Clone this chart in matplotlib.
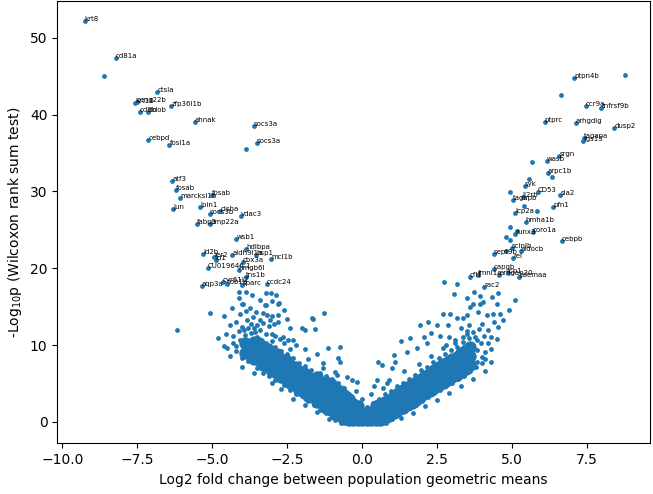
import matplotlib
matplotlib.use("Agg")
import matplotlib.pyplot as plt

# Labelled genes (log2 fold change, -log10 p, name)
lab_x = [-9.25, -8.22, -6.84, -7.58, -7.52, -7.41, -7.15, -6.37, -5.58, -3.61, -3.51,
         -7.14, -6.43, -6.33, -6.22, -6.08, -5.01, -6.30, -5.40, -5.08, -4.74, -4.05,
         -5.51, -5.08, -4.20, -3.88, -5.30, -4.94, -4.89, -4.34, -3.54, -3.04, -5.15,
         -3.99, -4.12, -3.88, -5.35, -4.66, -4.50, -4.00, -3.19,
         7.06, 7.46, 7.97, 6.08, 7.12, 8.40, 7.40, 7.36, 6.57, 6.15, 6.19, 5.42, 5.85,
         5.35, 5.01, 6.60, 6.37, 5.09, 5.45, 5.10, 5.69, 6.66, 4.98, 4.38, 5.29, 5.02,
         4.38, 3.58, 3.85, 4.57, 4.85, 5.23, 4.06]
lab_y = [52.2, 47.4, 42.9, 41.5, 41.6, 40.36, 40.3, 41.15, 39.0, 38.5, 36.25,
         36.64, 36.1, 31.3, 30.2, 29.2, 29.56, 27.7, 28.0, 27.1, 27.5, 26.8,
         25.7, 25.8, 23.8, 22.45, 21.8, 21.5, 21.1, 21.7, 21.75, 21.15, 20.05,
         20.8, 19.75, 18.9, 17.7, 18.2, 17.9, 17.8, 18.0,
         44.75, 41.07, 40.9, 39.1, 38.98, 38.3, 37.0, 36.6, 34.6, 33.95, 32.4, 30.7, 29.87,
         29.3, 28.87, 29.48, 27.96, 27.2, 26.0, 24.4, 24.74, 23.5, 22.66, 21.9, 22.2, 21.3,
         19.9, 18.8, 19.1, 19.06, 19.4, 18.8, 17.58]
lab_names = ["krt8", "cd81a", "ctsla", "krt18", "ccng22b", "cd9b", "cldob", "zfp36l1b",
             "ahnak", "socs3a", "socs3a", "cebpd", "fosl1a", "atf3", "fosab", "marcksl1b",
             "fosab", "jun", "lpin1", "socs3b", "cisha", "vdac3", "fabp3", "pmp22a", "wsb1",
             "hdlbpa", "id2b", "ier2", "id1", "aldh9l1a", "hsp1", "mcl1b", "CU019646.1",
             "cbx3a", "hmgb6l", "tns1b", "aqp3a", "cyr61l2", "tob1b", "sparc", "ccdc24",
             "ptpn4b", "ccr9a", "tnfrsf9b", "ptprc", "arhgdig", "dusp2", "tagapa", "rgs13",
             "srgn", "wasb", "arpc1b", "syk", "CD53", "il2rb", "tagapb", "sla2", "pfn1",
             "lcp2a", "hmha1b", "runx3", "coro1a", "cebpb", "scinlb", "sept9b", "aldocb",
             "rel", "capgb", "cfl1", "fmnl1a", "arhgap30", "lcp1", "psemaa", "rac2"]

# Unlabelled high-significance genes
top_x = [-8.60, -3.88, 8.77, 6.63, 5.65, 6.33, 5.57, 4.93, 5.39, 5.82, 4.92, 4.80, 4.93,
         4.80, 5.15]
top_y = [45.05, 35.5, 45.14, 42.58, 33.8, 31.9, 31.56, 29.87, 28.1, 27.5, 25.4, 24.1, 23.7,
         22.2, 24.8]

# Scattered moderately significant genes
sc_x = [-6.19, -5.07, -4.80, -4.10, -3.88, -3.69, -3.21, -3.04, -2.89, -4.10, -4.01, -3.41,
        -3.21, -3.00, -2.79, -4.08, -3.89, -3.31, -3.19, -3.02, -2.82, -1.28, -1.65, -3.85,
        -3.70, -3.50, -3.30, -3.10, -2.95, -2.41, -2.02, -1.90, -1.58, -4.08, -4.02, -3.85,
        -3.63, -2.80, -1.69, -1.13, -0.74, -0.80, -0.74, -0.85, -0.35, -0.19, -3.97, -3.24,
        -2.80, -3.41, -3.08, -3.80, -3.58, -3.02, -2.63, -2.47, -4.40, -4.55, -2.20, -1.90,
        -1.50, -1.30, -2.30,
        -4.20, -4.00, -3.95, -3.60, -3.40, -3.20, -2.90, -2.75, -2.60, -4.30, -4.50, -4.20,
        -3.75, -3.55, -2.60, -2.50, -4.35, -4.60,
        -3.00, -2.70, -2.30, -1.90, -1.50, -1.10, -3.60, -4.00, -4.40, -4.60,
        -3.00, -2.40, -1.80, -1.30, -0.90, -0.50, -0.20, 0.00,
        0.53, 0.65, 1.04, 1.09, 0.98, 0.48, 0.81, 1.48, 1.81, 1.92, 2.20, 2.15, 2.48, 2.70,
        2.87, 2.92, 3.15, 3.37, 3.48, 3.59, 3.70, 3.92, 4.03, 4.15, 4.37, 4.48, 4.53, 3.81,
        3.81, 3.81, 3.65, 2.48, 3.48, 3.70, 2.72, 3.15, 4.52, 3.71, 3.93, 4.33, 3.05, 3.49,
        4.20, 4.00, 3.30, 2.60, 2.90, 4.70, 4.90, 5.10, 4.30, 1.30, 0.30, 0.70,
        3.90, 4.05, 4.20, 3.55, 3.35, 3.10, 2.80, 4.40, 4.60, 3.85, 2.30, 2.05, 1.60, 4.10,
        1.30, 1.70, 2.10, 2.50, 2.90, 3.30, 3.70, 4.10, 4.30,
        0.40, 0.90, 1.40, 1.90, 2.30, 2.70, 3.10, 3.50, 4.30, 4.50]
sc_y = [11.9, 14.2, 10.9, 16.9, 16.9, 16.5, 16.8, 16.8, 16.5, 16.1, 15.4, 15.9,
        15.2, 15.7, 15.5, 14.1, 14.4, 14.2, 13.9, 13.8, 13.9, 14.2, 13.4, 13.2,
        12.8, 12.6, 12.9, 12.5, 12.7, 12.2, 12.2, 12.0, 12.07, 10.6, 9.1, 10.4,
        13.7, 13.0, 13.5, 9.6, 9.8, 8.3, 7.8, 6.1, 5.4, 5.2, 15.4, 15.2,
        15.4, 13.2, 13.2, 12.2, 11.7, 11.5, 11.1, 10.6, 12.6, 11.5, 10.0, 9.5,
        8.8, 7.6, 10.6,
        13.0, 12.4, 11.9, 12.2, 11.9, 11.4, 11.2, 10.8, 10.3, 10.2, 9.6, 9.9,
        14.8, 14.3, 14.6, 13.4, 14.8, 13.8,
        5.0, 4.3, 3.0, 2.2, 1.3, 0.4, 6.3, 7.2, 8.6, 9.9,
        10.5, 9.5, 8.2, 7.0, 6.5, 5.8, 4.0, 3.0,
        7.8, 7.4, 8.7, 7.8, 6.95, 5.4, 5.0, 9.1, 9.6, 12.6, 13.0, 10.2, 12.6, 14.1,
        12.6, 14.1, 13.5, 13.5, 13.9, 15.0, 15.4, 15.4, 15.6, 13.9, 14.1, 15.4, 12.4, 10.6,
        9.3, 7.8, 7.2, 4.1, 11.5, 11.7, 18.2, 17.9, 16.8, 16.85, 16.4, 16.2, 16.6, 16.1,
        12.0, 12.8, 12.2, 11.2, 11.0, 13.3, 14.6, 15.8, 11.0, 10.5, 3.6, 4.4,
        12.1, 11.2, 10.3, 12.6, 11.0, 10.6, 10.0, 13.0, 14.1, 14.3, 11.6, 11.0, 10.9, 8.2,
        0.5, 1.2, 2.0, 2.9, 3.8, 4.7, 5.6, 6.6, 7.8,
        4.6, 5.4, 6.6, 7.5, 8.6, 9.6, 10.3, 11.8, 9.5, 10.8]

# Edges of the dense bulk of genes
edge_x = [-4.2, -4.0, -3.8, -3.5, -3.3, -3.1, -2.9, -2.6, -2.4, -2.2, -2.0, -1.8, -1.6, -1.4,
          -1.2, -1.0, -0.9, -0.7,
          -4.3, -4.1, -3.9, -3.7, -3.5, -3.4, -3.2, -2.9, -2.7, -2.5, -2.3, -2.1, -1.9, -1.7,
          -1.4, -1.2, -1.0, -0.8, -0.6, -0.45, -0.3, -0.15,
          0.8, 1.0, 1.2, 1.4, 1.6, 1.8, 2.0, 2.2, 2.4, 2.6, 2.8, 3.0, 3.2, 3.4, 3.6, 3.8, 4.0,
          0.15, 0.35, 0.55, 0.75, 0.95, 1.15, 1.35, 1.55, 1.75, 1.95, 2.15, 2.35, 2.55, 2.75,
          2.95, 3.15, 3.35, 3.55, 3.75, 3.95, 4.1, 4.0,
          -0.5, -0.3, -0.1, 0.1, 0.3, 0.5, 0.7]
edge_y = [9.2, 8.3, 7.9, 7.0, 6.4, 6.0, 5.4, 4.8, 4.2, 3.6, 3.3, 2.7, 2.2, 1.6,
          1.1, 0.6, 0.2, -0.1,
          11.2, 11.8, 11.3, 11.6, 11.0, 10.7, 10.3, 9.8, 9.2, 8.8, 8.3, 7.6, 7.3, 6.8,
          6.4, 6.0, 5.6, 5.0, 4.4, 3.6, 3.0, 2.3,
          -0.1, 0.4, 0.9, 1.4, 1.8, 2.2, 2.7, 3.2, 3.7, 4.2, 4.6, 5.1, 5.6, 6.0, 6.6, 7.1, 7.6,
          1.9, 2.4, 3.0, 3.6, 4.0, 4.6, 5.1, 5.6, 6.1, 6.7, 7.2, 7.8, 8.3, 8.8,
          9.3, 9.8, 10.4, 10.9, 11.1, 10.2, 9.1, 8.4,
          -0.2, -0.2, -0.2, -0.2, -0.2, -0.2, -0.2]

# Dense bulk of genes
core_x = [-3.9, -3.9, -3.6, -3.6, -3.6, -3.3, -3.3, -3.3, -3.0, -3.0, -3.0, -2.7, -2.7, -2.7,
          -2.4, -2.4, -2.4, -2.1, -2.1, -2.1, -1.8, -1.8, -1.8, -1.5, -1.5, -1.5, -1.5,
          -1.2, -1.2, -1.2, -1.2, -0.9, -0.9, -0.9, -0.9, -0.6, -0.6, -0.6, -0.6,
          -0.3, -0.3, -0.3, 0.0, 0.0, 0.3, 0.3, 0.6, 0.6, 0.6, 0.9, 0.9, 0.9,
          1.2, 1.2, 1.2, 1.5, 1.5, 1.5, 1.8, 1.8, 1.8, 2.1, 2.1, 2.1, 2.4, 2.4, 2.4,
          2.7, 2.7, 2.7, 3.0, 3.0, 3.0, 3.3, 3.3, 3.3, 3.6, 3.6, 3.6,
          -3.75, -3.75, -3.45, -3.45, -3.45, -3.15, -3.15, -3.15, -2.85, -2.85, -2.85,
          -2.55, -2.55, -2.55, -2.25, -2.25, -2.25, -1.95, -1.95, -1.95, -1.65, -1.65, -1.65,
          -1.35, -1.35, -1.35, -1.05, -1.05, -1.05, -1.05, -0.75, -0.75, -0.75, -0.75,
          -0.45, -0.45, -0.45, -0.45, -0.15, -0.15, -0.15, 0.15, 0.15, 0.45, 0.45, 0.45,
          0.75, 0.75, 0.75, 1.05, 1.05, 1.05, 1.35, 1.35, 1.35, 1.65, 1.65, 1.65,
          1.95, 1.95, 1.95, 2.25, 2.25, 2.25, 2.55, 2.55, 2.55, 2.85, 2.85, 2.85,
          3.15, 3.15, 3.15, 3.45, 3.45, 3.45]
core_y = [9.0, 10.2, 8.2, 9.4, 10.4, 7.4, 8.6, 9.7, 6.6, 7.8, 9.0, 5.8, 7.0, 8.2,
          5.0, 6.2, 7.4, 4.2, 5.4, 6.6, 3.4, 4.6, 5.8, 2.6, 3.8, 5.0, 5.8,
          1.8, 3.0, 4.2, 5.2, 1.0, 2.2, 3.4, 4.4, 0.4, 1.5, 2.6, 3.5,
          0.3, 1.3, 2.3, 0.3, 1.2, 0.3, 1.3, 0.3, 1.3, 2.3, 0.8, 1.9, 2.9,
          1.5, 2.6, 3.7, 2.2, 3.3, 4.5, 2.9, 4.0, 5.2, 3.7, 4.8, 6.0, 4.4, 5.5, 6.8,
          5.1, 6.2, 7.5, 5.8, 6.9, 8.2, 6.5, 7.7, 8.9, 7.4, 8.6, 9.7,
          8.8, 10.0, 8.0, 9.2, 10.2, 7.2, 8.4, 9.5, 6.4, 7.6, 8.8,
          5.6, 6.8, 8.0, 4.8, 6.0, 7.2, 4.0, 5.2, 6.3, 3.2, 4.4, 5.5,
          2.4, 3.6, 4.8, 1.6, 2.8, 4.0, 4.9, 0.8, 2.0, 3.1, 4.0,
          0.3, 1.4, 2.4, 3.0, 0.3, 1.2, 2.0, 0.3, 1.2, 0.3, 1.3, 2.0,
          0.5, 1.6, 2.6, 1.2, 2.2, 3.3, 1.8, 2.9, 4.1, 2.5, 3.6, 4.8,
          3.3, 4.4, 5.6, 4.0, 5.1, 6.4, 4.8, 5.9, 7.1, 5.4, 6.5, 7.8,
          6.1, 7.3, 8.5, 6.9, 8.1, 9.3]

C = "#1f77b4"
fig = plt.figure(figsize=(6.53, 4.94), dpi=100)
ax = fig.add_axes([0.0877, 0.1026, 0.9077, 0.8953])

ax.scatter(core_x, core_y, s=80, color=C, linewidths=0)
ax.scatter(edge_x, edge_y, s=12, color=C, linewidths=0)
ax.scatter(sc_x, sc_y, s=12, color=C, linewidths=0)
ax.scatter(top_x, top_y, s=12, color=C, linewidths=0)
ax.scatter(lab_x, lab_y, s=12, color=C, linewidths=0)
for x, y, n in zip(lab_x, lab_y, lab_names):
    ax.text(x, y, n, fontsize=5)

ax.set_xlim(-10.17, 9.59)
ax.set_ylim(-2.8, 54.8)
ax.set_xticks([-10.0, -7.5, -5.0, -2.5, 0.0, 2.5, 5.0, 7.5])
ax.set_yticks([0, 10, 20, 30, 40, 50])
ax.set_xlabel("Log2 fold change between population geometric means", fontsize=10)
ax.set_ylabel("-Log$_{10}$p (Wilcoxon rank sum test)", fontsize=10)

fig.savefig("out.png", dpi=100)
